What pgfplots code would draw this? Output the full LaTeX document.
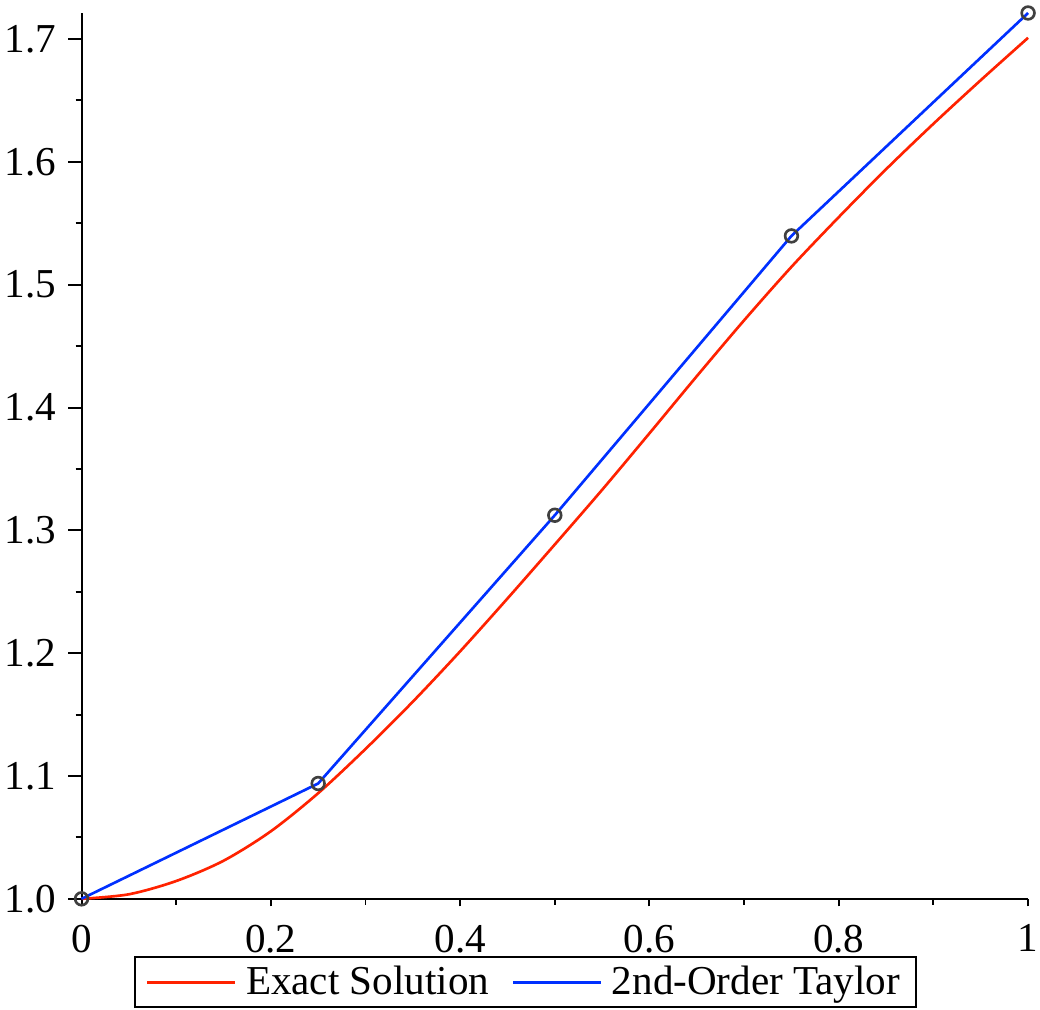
\documentclass[border=0pt]{standalone}
\usepackage{fontspec}
\setmainfont{Liberation Serif}
\usepackage{pgfplots}
\pgfplotsset{compat=1.18}
\definecolor{exactred}{RGB}{255,34,0}
\definecolor{taylorblue}{RGB}{0,48,255}

\begin{document}
\begin{tikzpicture}
\begin{axis}[
  scale only axis,
  width=357pt, height=334.1pt,
  xmin=0, xmax=1, ymin=1.0, ymax=1.7212,
  axis x line=bottom, axis y line=left,
  axis line style={-, line width=0.75pt},
  tick align=outside,
  tick style={black, line width=0.75pt},
  xtick={0,0.2,0.4,0.6,0.8,1},
  xticklabels={0,0.2,0.4,0.6,0.8,1},
  ytick={1.0,1.1,1.2,1.3,1.4,1.5,1.6,1.7},
  yticklabels={1.0,1.1,1.2,1.3,1.4,1.5,1.6,1.7},
  minor tick num=1,
  x tick style={/pgfplots/major tick length=2.8pt, /pgfplots/minor tick length=2.2pt},
  y tick style={/pgfplots/major tick length=5pt, /pgfplots/minor tick length=2.2pt},
  tick label style={font=\fontsize{15.5}{17}\selectfont},
  x tick label style={yshift=-2pt},
  y tick label style={xshift=-1.8pt},
  legend columns=2,
  legend style={at={(rel axis cs:0.0557,-0.0651)}, anchor=north west,
    draw=black, line width=0.75pt, font=\fontsize{15.5}{17}\selectfont,
    inner xsep=4pt, inner ysep=2.3pt,
    nodes={inner ysep=1pt},
    /tikz/every even column/.append style={column sep=6.5pt}},
  legend cell align=left,
  legend image code/.code={\draw[#1, line width=1pt] (0pt,0pt) -- (33pt,0pt);
    \path (34.8pt,0pt);},
  clip=false,
]
% exact solution
\addplot[exactred, line width=1pt, smooth] coordinates {
  (0,1.000) (0.05,1.0037) (0.10,1.0145) (0.15,1.031) (0.20,1.055)
  (0.25,1.086) (0.30,1.122) (0.35,1.1605) (0.40,1.2015) (0.45,1.2445)
  (0.50,1.2885) (0.55,1.333) (0.60,1.379) (0.65,1.4255) (0.70,1.471)
  (0.75,1.5145) (0.80,1.555) (0.85,1.594) (0.90,1.631) (0.95,1.6665)
  (1.00,1.701)};
\addlegendentry{Exact Solution}
% 2nd-order Taylor, h = 0.25
\addplot[taylorblue, line width=1pt] coordinates {
  (0,1.0) (0.25,1.0939) (0.5,1.3123) (0.75,1.5397) (1,1.7212)};
\addlegendentry{2nd-Order Taylor}
\addplot[only marks, mark=o, mark size=2.4pt, black!75,
  mark options={line width=1pt}, forget plot] coordinates {
  (0,1.0) (0.25,1.0939) (0.5,1.3123) (0.75,1.5397) (1,1.7212)};
\end{axis}
\pgfresetboundingbox
\path (-30.75pt,-41.6pt) rectangle (361.5pt,339pt);
\end{tikzpicture}
\end{document}
